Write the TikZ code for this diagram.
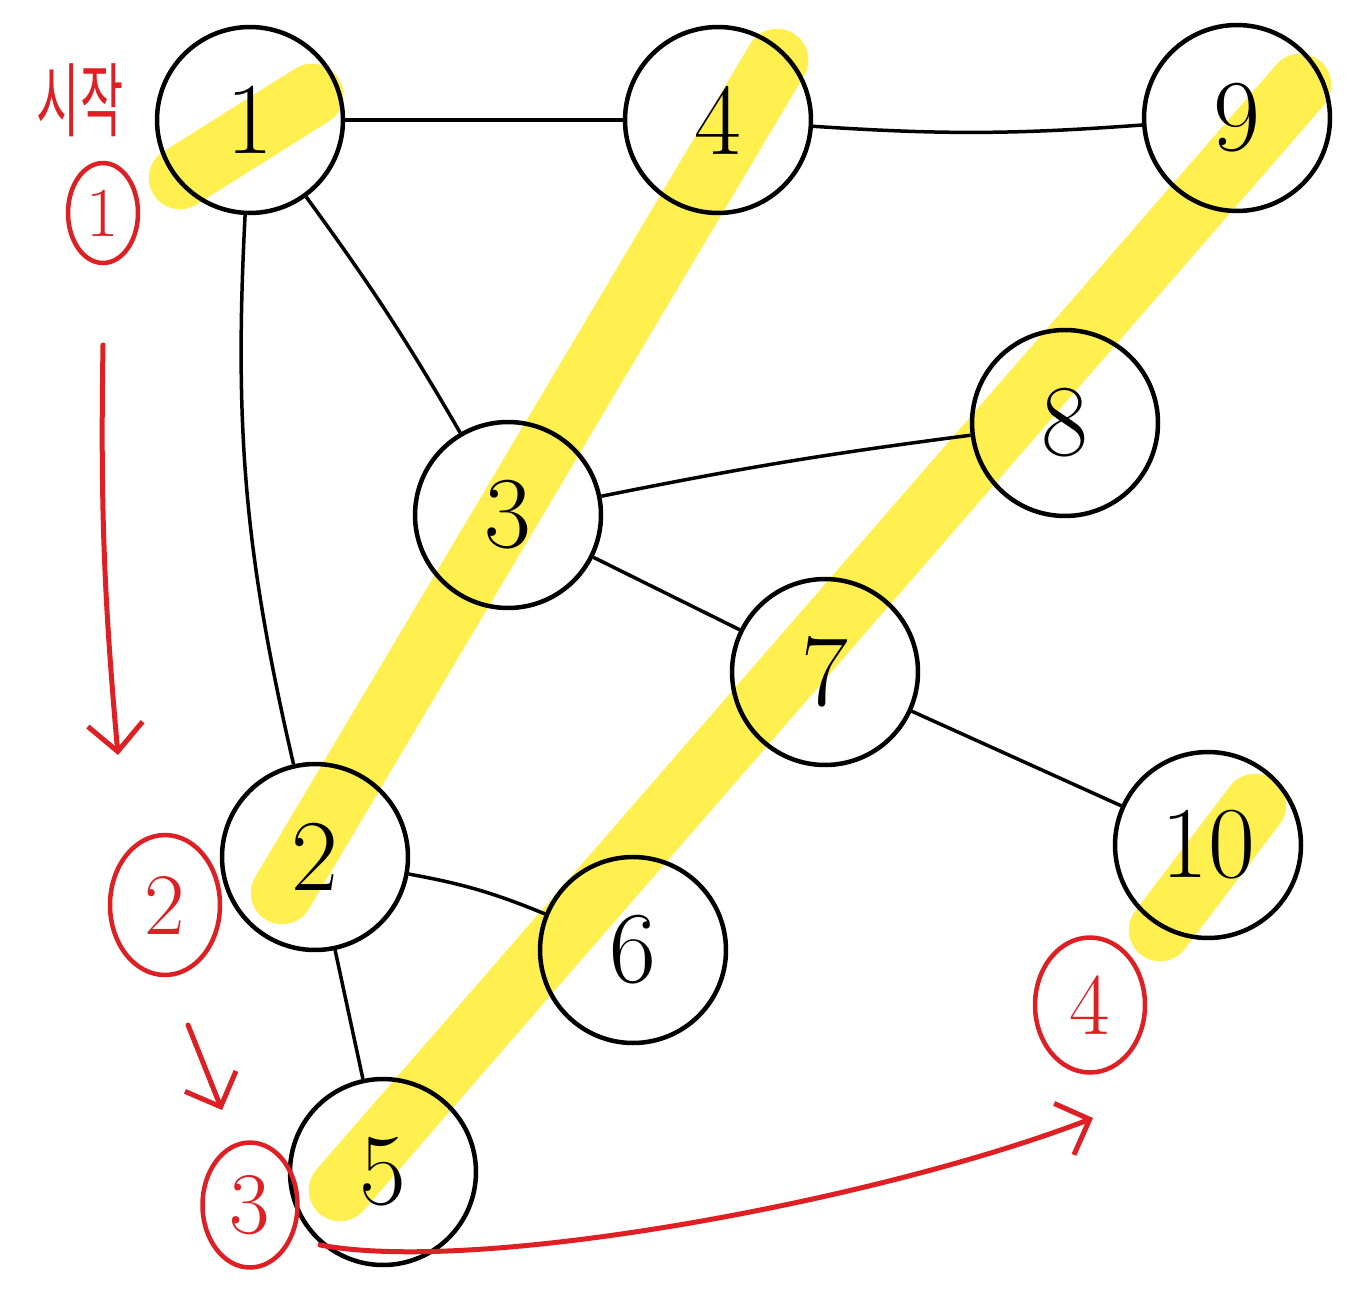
\documentclass[tikz,border=0pt]{standalone}
\usepackage{fontspec}
\newfontfamily\krfont{Noto Sans CJK KR}
\usetikzlibrary{arrows.meta,shapes.geometric}

\definecolor{hlyellow}{RGB}{255,240,80}
\definecolor{penred}{RGB}{222,32,36}

\tikzset{
  vertex/.style={circle, draw=black, line width=0.09cm, inner sep=0pt,
    minimum size=3.72cm, font=\fontsize{58}{60}\selectfont},
  link/.style={black, line width=0.07cm},
  marker/.style={hlyellow, line width=1.25cm, line cap=round},
  order/.style={ellipse, draw=penred, line width=0.09cm, inner sep=0pt,
    text=penred, font=\fontsize{50}{52}\selectfont},
  redarrow/.style={penred, line width=0.1cm, line cap=round,
    -{Straight Barb[length=0.55cm, width=1.1cm, line width=0.1cm]}}
}

\begin{document}
\begin{tikzpicture}[x=0.02cm, y=-0.02cm]

 \useasboundingbox (0,0) rectangle (1364,1288);

 % highlighter strokes
 \draw[marker] (180,178) -- (312,95);
 \draw[marker] (777,60) -- (282,893);
 \draw[marker] (1300,85) -- (340,1190);
 \draw[marker] (1255,805) -- (1160,930);

 % nodes
 \node[vertex] (n1) at (250,120) {1};
 \node[vertex] (n4) at (718,120) {4};
 \node[vertex] (n9) at (1237,118) {9};
 \node[vertex] (n8) at (1065,423) {8};
 \node[vertex] (n3) at (508,515) {3};
 \node[vertex] (n7) at (825,672) {7};
 \node[vertex] (n2) at (315,857) {2};
 \node[vertex] (n6) at (633,950) {6};
 \node[vertex] (n10) at (1208,845) {10};
 \node[vertex] (n5) at (383,1172) {5};

 % edges
 \draw[link] (n1) -- (n4);
 \draw[link] (n4) to[bend right=4] (n9);
 \draw[link] (n1) to[bend left=3] (n3);
 \draw[link] (n1) to[bend right=8] (n2);
 \draw[link] (n3) to[bend left=2] (n8);
 \draw[link] (n3) -- (n7);
 \draw[link] (n7) -- (n10);
 \draw[link] (n2) to[bend left=6] (n6);
 \draw[link] (n2) -- (n5);

 % visiting order
 \node[penred, font=\krfont\fontsize{46}{48}\selectfont, xscale=0.58] (start) at (80,100) {시작};
 \node[order, minimum width=1.4cm, minimum height=2cm, font=\fontsize{40}{42}\selectfont] (o1) at (103,213) {1};
 \node[order, minimum width=2.2cm, minimum height=2.8cm] (o2) at (165,905) {2};
 \node[order, minimum width=1.9cm, minimum height=2.5cm] (o3) at (250,1205) {3};
 \node[order, minimum width=2.2cm, minimum height=2.7cm] (o4) at (1090,1005) {4};

 \coordinate (a1s) at (103,345);
 \coordinate (a1e) at (118,755);
 \coordinate (a2s) at (188,1025);
 \coordinate (a2e) at (222,1110);
 \coordinate (a3s) at (320,1245);
 \coordinate (a3e) at (1093,1118);

 % arrows
 \draw[redarrow] (a1s) to[bend right=3] (a1e);
 \draw[redarrow] (a2s) -- (a2e);
 \draw[redarrow] (a3s) .. controls (480,1275) and (880,1200) .. (a3e);

\end{tikzpicture}
\end{document}
